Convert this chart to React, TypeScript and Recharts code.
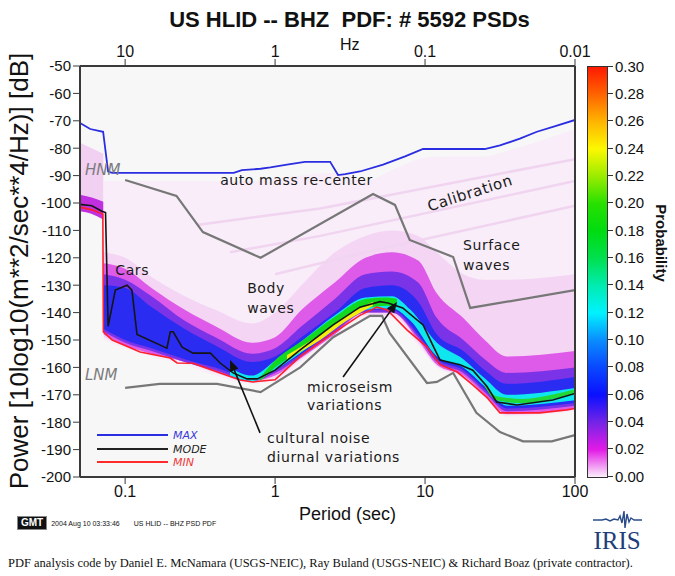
import React from "react";
import {
  ComposedChart,
  Area,
  Line,
  XAxis,
  YAxis,
  CartesianGrid,
  ReferenceDot,
  ReferenceLine,
} from "recharts";

// axis ticks
const periodTicks = [0.1, 1, 10, 100];
const freqLabels = ["10", "1", "0.1", "0.01"];
const powerTicks = [-200, -190, -180, -170, -160, -150, -140, -130, -120, -110, -100, -90, -80, -70, -60, -50];
const probTicks = ["0.30", "0.28", "0.26", "0.24", "0.22", "0.20", "0.18", "0.16", "0.14", "0.12", "0.10", "0.08", "0.06", "0.04", "0.02", "0.00"];

// statistic lines (period in s, power in dB)
const maxP = [0.05, 0.0585, 0.0713, 0.077, 0.082, 0.53, 0.6, 0.8, 0.93, 1.2, 1.58, 2.33, 2.63, 2.93, 3.68, 5.25, 7.36, 9.7, 25, 31.6, 42.9, 55.7, 73, 100];
const maxDb = [-70.8, -73, -74, -88.5, -89, -89, -88, -87.5, -87, -86, -85, -85, -89.8, -89.5, -88.5, -86, -83, -80.3, -80.3, -79, -76.5, -74, -72, -69.7];

const modeP = [0.05, 0.06, 0.07, 0.074, 0.077, 0.086, 0.103, 0.111, 0.12, 0.19, 0.2, 0.209, 0.24, 0.284, 0.37, 0.43, 0.525, 0.65, 0.76, 1.0, 1.47, 2.44, 3.68, 5, 5.66, 7.1, 9.7, 11.4, 12.6, 17.1, 20.8, 25.9, 30, 41, 71, 100];
const modeDb = [-100.5, -101, -103, -103.5, -145, -131.8, -130, -131.8, -148, -153, -147, -147, -152.6, -154.8, -154.8, -158.4, -162, -164.2, -164.2, -161, -153.6, -144.5, -138, -136, -136.5, -138.3, -144.5, -152.5, -157.3, -159, -161, -167, -172.6, -173.7, -171.9, -169.5];

const minP = [0.05, 0.06, 0.071, 0.0716, 0.082, 0.126, 0.2, 0.222, 0.284, 0.43, 0.585, 0.71, 1.0, 1.47, 2.44, 3.68, 4.78, 5.6, 7.6, 10.3, 12.6, 16.4, 20.8, 25.9, 31.6, 58, 88, 100];
const minDb = [-101.5, -102.5, -104, -147, -150, -154.4, -156.6, -158.4, -158.5, -162, -164.6, -165.3, -164.5, -156, -147.5, -141, -138, -139, -146.4, -152.5, -159, -161.7, -166.4, -171, -176.6, -176.6, -175.5, -175];

const hnmP = [0.1, 0.22, 0.33, 0.8, 4.5, 6.3, 7.9, 15.4, 20, 100];
const hnmDb = [-91.6, -97.4, -110.6, -120, -96.7, -100.7, -113.5, -119.7, -138.3, -131.8];

const lnmP = [0.1, 0.17, 0.41, 0.8, 1.47, 2.44, 4.3, 5.17, 5.8, 10.3, 12, 15.4, 22, 31.6, 45, 70, 100];
const lnmDb = [-167.5, -166, -166, -169, -160, -149, -141.2, -141.2, -147.4, -165.7, -165.3, -162, -176.6, -183.6, -187, -187, -184.7];

// probability density bands (outer to inner)
const bandP = [0.072, 0.1, 0.15, 0.25, 0.4, 0.7, 1.0, 1.5, 2.5, 4, 6, 9, 12, 18, 25, 35, 100];
const faintLo = [-150, -153, -156, -159, -163, -166, -165, -158, -149, -142, -142, -152, -160, -164, -171, -178, -176];
const faintHi = [-92, -92, -92, -92, -92, -92, -91, -90, -89, -92, -88, -84, -83, -83, -83, -81, -73];
const pinkLo = [-149, -152, -155, -158, -162, -165.5, -164, -157, -148, -141, -141, -151, -159.5, -163.5, -170.5, -177.5, -175.5];
const pinkHi = [-118, -120, -127, -134, -139, -144, -140, -130, -118, -112, -110, -112, -118, -126, -128, -128, -126];
const magLo = [-148, -152, -155, -158, -161.5, -165, -163, -156.5, -148, -140, -140, -150, -159, -163, -170, -177, -175];
const magHi = [-122, -124, -131, -139, -145, -151, -149, -139, -129, -120, -118, -121, -133, -142, -150, -156, -154];
const purLo = [-147, -151, -154, -158, -161, -165, -162, -156, -147, -140, -140, -149, -158, -162, -169, -176, -174];
const purHi = [-126, -128, -134, -143, -149, -155, -153, -145, -135, -126, -125, -129, -142, -150, -157, -162, -160];
const blueLo = [-146, -150, -153, -157, -160, -164, -161, -155, -146, -139, -139, -148, -157, -161, -168, -175, -173];
const blueHi = [-130, -131, -138, -146, -152, -158, -156, -149, -140, -131, -130, -136, -148, -154, -161, -166, -163.5];

const cyanP = [0.5, 0.7, 1.0, 1.5, 2.5, 4, 6, 8, 12, 18, 25, 35, 100];
const cyanLo = [-163, -165, -161, -154.5, -145.5, -139, -138.5, -143, -156, -160, -167, -174, -172];
const cyanHi = [-160, -163, -157.5, -150.5, -141, -134.5, -134, -139, -151, -157, -164, -170, -167.5];

const greenP = [0.8, 1.0, 1.5, 2.5, 4, 5.5, 6.5];
const greenLo = [-165, -160, -154, -145, -138.5, -137.5, -137.5];
const greenHi = [-163.5, -157.5, -150.5, -141.5, -135, -134.5, -135];
const green2P = [25, 30, 45, 70, 100];
const green2Lo = [-167, -172, -173, -171.5, -169.5];
const green2Hi = [-165.5, -170.5, -171.5, -170, -168];

const yellowP = [1.2, 2, 3, 4.5];
const yellowLo = [-157, -150, -143, -137.5];
const yellowHi = [-155.5, -148, -141, -136];

// short-period cluster and spurious high power
const clusterP = [0.05, 0.06, 0.0715];
const clusterLo = [-103, -104, -106];
const clusterHi = [-97, -98, -99.5];
const spikeP = [0.05, 0.06, 0.0715];
const spikeLo = [-97, -98, -100];
const spikeHi = [-78, -80, -82];

// calibration stripes
const stripe1P = [0.3, 2, 100];
const stripe1Db = [-108, -102, -84];
const stripe2P = [0.5, 2, 100];
const stripe2Db = [-118, -112, -92];
const stripe3P = [1, 4, 100];
const stripe3Db = [-126, -118, -101];

// annotations
const noteText = ["HNM", "auto mass re-center", "Surface", "waves", "Cars", "Body", "waves", "microseism", "variations", "cultural noise", "diurnal variations", "LNM"];
const noteP = [0.054, 0.43, 17.9, 17.9, 0.086, 0.651, 0.651, 1.63, 1.63, 0.884, 0.884, 0.054];
const noteDb = [-88, -91.6, -115.3, -122.6, -124.5, -131, -138.3, -167.2, -173.7, -185.8, -192.7, -162.8];
const arrowTail = [{ p: 0.794, db: -183.9 }, { p: 2.84, db: -163.5 }];
const arrowTip = [{ p: 0.501, db: -157.3 }, { p: 6.5, db: -136.1 }];

const line = (p: number[], db: number[]) => p.map((x, i) => ({ p: x, v: db[i] }));
const band = (p: number[], lo: number[], hi: number[]) => p.map((x, i) => ({ p: x, r: [lo[i], hi[i]] }));

const bands = [
  { data: band(bandP, faintLo, faintHi), fill: "#f8edf8" },
  { data: band(spikeP, spikeLo, spikeHi), fill: "#f1d0f2" },
  { data: band(bandP, pinkLo, pinkHi), fill: "#f4d6f4" },
  { data: band(bandP, magLo, magHi), fill: "#de5ae8" },
  { data: band(bandP, purLo, purHi), fill: "#7b33e8" },
  { data: band(bandP, blueLo, blueHi), fill: "#2a2cf2" },
  { data: band(cyanP, cyanLo, cyanHi), fill: "#10e6ee" },
  { data: band(greenP, greenLo, greenHi), fill: "#12d820" },
  { data: band(green2P, green2Lo, green2Hi), fill: "#22d836" },
  { data: band(yellowP, yellowLo, yellowHi), fill: "#f4ee10" },
  { data: band(clusterP, clusterLo, clusterHi), fill: "#c030e0" },
];

const narrow = "'Liberation Sans Narrow', 'Arial Narrow', 'Liberation Sans', sans-serif";
const noteFont = "'DejaVu Sans', sans-serif";

const NoteShape = (text: string, italic: boolean) => (props: any) => (
  <text
    x={props.cx}
    y={props.cy}
    dominantBaseline="central"
    fontFamily={noteFont}
    fontSize={italic ? 15 : 14}
    fontStyle={italic ? "italic" : "normal"}
    letterSpacing={italic ? 0 : 0.6}
    fill={italic ? "#7c7c7c" : "#1a1a1a"}
  >
    {text}
  </text>
);

const CalibrationShape = (props: any) => (
  <text
    x={props.cx}
    y={props.cy}
    textAnchor="middle"
    dominantBaseline="central"
    fontFamily={noteFont}
    fontSize={15}
    letterSpacing={0.6}
    fill="#1a1a1a"
    transform={`rotate(-18 ${props.cx} ${props.cy})`}
  >
    Calibration
  </text>
);

const ArrowShape = (props: any) => {
  const { x1, y1, x2, y2 } = props;
  const a = Math.atan2(y2 - y1, x2 - x1);
  const L = 11;
  const w = 4.5;
  const bx = x2 - L * Math.cos(a);
  const by = y2 - L * Math.sin(a);
  const pts = `${x2},${y2} ${bx + w * Math.sin(a)},${by - w * Math.cos(a)} ${bx - w * Math.sin(a)},${by + w * Math.cos(a)}`;
  return (
    <g>
      <line x1={x1} y1={y1} x2={bx} y2={by} stroke="#111" strokeWidth={1.6} />
      <polygon points={pts} fill="#111" />
    </g>
  );
};

export default function App() {
  return (
    <div style={{ position: "relative", width: 675, height: 576, background: "#fff", overflow: "hidden", fontFamily: "'Liberation Sans', Arial, sans-serif" }}>
      <style>{"body{margin:0}"}</style>
      <div style={{ position: "absolute", left: 12, width: 675, top: 7, textAlign: "center", fontFamily: narrow, fontWeight: "bold", fontSize: 22, color: "#111" }}>
        US HLID -- BHZ&nbsp;&nbsp;PDF: # 5592 PSDs
      </div>
      <ComposedChart width={675} height={576} margin={{ top: 36, right: 80, bottom: 69, left: 0 }} style={{ position: "absolute", left: 0, top: 0 }}>
        <CartesianGrid horizontal={false} vertical={false} fill="#f8f7f8" />
        <XAxis
          type="number"
          dataKey="p"
          scale="log"
          domain={[0.05, 100]}
          allowDataOverflow
          ticks={periodTicks}
          tickFormatter={(v: number) => String(v)}
          height={30}
          tickSize={7}
          tick={{ fontSize: 16, fill: "#111", fontFamily: narrow }}
          axisLine={{ stroke: "#3a3a3a", strokeWidth: 2 }}
          tickLine={{ stroke: "#3a3a3a" }}
        />
        <XAxis
          xAxisId="top"
          orientation="top"
          type="number"
          dataKey="p"
          scale="log"
          domain={[0.05, 100]}
          allowDataOverflow
          ticks={periodTicks}
          tickFormatter={(v: number) => freqLabels[periodTicks.indexOf(v)]}
          height={30}
          tickSize={7}
          tick={{ fontSize: 16, fill: "#111", fontFamily: narrow }}
          axisLine={{ stroke: "#3a3a3a", strokeWidth: 2 }}
          tickLine={{ stroke: "#3a3a3a" }}
        />
        <YAxis
          type="number"
          domain={[-200, -50]}
          allowDataOverflow
          ticks={powerTicks}
          width={80}
          tickSize={7}
          tick={{ fontSize: 15, fill: "#111", fontFamily: narrow }}
          axisLine={{ stroke: "#3a3a3a", strokeWidth: 2 }}
          tickLine={{ stroke: "#3a3a3a" }}
        />
        <YAxis
          yAxisId="right"
          orientation="right"
          type="number"
          domain={[-200, -50]}
          ticks={powerTicks}
          width={20}
          tickSize={6}
          tickFormatter={() => ""}
          axisLine={{ stroke: "#3a3a3a", strokeWidth: 2 }}
          tickLine={{ stroke: "#3a3a3a" }}
        />
        {bands.map((b, i) => (
          <Area key={i} data={b.data} dataKey="r" type="monotone" stroke="none" fill={b.fill} fillOpacity={1} isAnimationActive={false} />
        ))}
        {[line(stripe1P, stripe1Db), line(stripe2P, stripe2Db), line(stripe3P, stripe3Db)].map((d, i) => (
          <Line key={`s${i}`} data={d} dataKey="v" stroke="#f0d4f0" strokeWidth={2.5} dot={false} isAnimationActive={false} />
        ))}
        <Line data={line(hnmP, hnmDb)} dataKey="v" stroke="#777" strokeWidth={2.2} dot={false} isAnimationActive={false} />
        <Line data={line(lnmP, lnmDb)} dataKey="v" stroke="#777" strokeWidth={2.2} dot={false} isAnimationActive={false} />
        <Line data={line(minP, minDb)} dataKey="v" stroke="#ff1e2a" strokeWidth={1.6} dot={false} isAnimationActive={false} />
        <Line data={line(modeP, modeDb)} dataKey="v" stroke="#151515" strokeWidth={1.6} dot={false} isAnimationActive={false} />
        <Line data={line(maxP, maxDb)} dataKey="v" stroke="#2a2ee0" strokeWidth={1.8} dot={false} isAnimationActive={false} />
        {noteText.map((t, i) => (
          <ReferenceDot key={`n${i}`} x={noteP[i]} y={noteDb[i]} r={0} shape={NoteShape(t, t === "HNM" || t === "LNM")} />
        ))}
        <ReferenceDot x={19.95} y={-96.4} r={0} shape={CalibrationShape} />
        {arrowTail.map((a, i) => (
          <ReferenceLine key={`a${i}`} segment={[{ x: a.p, y: a.db }, { x: arrowTip[i].p, y: arrowTip[i].db }]} shape={ArrowShape} />
        ))}
      </ComposedChart>

      {/* top axis unit */}
      <div style={{ position: "absolute", left: 340, top: 36, fontFamily: narrow, fontSize: 16, color: "#111" }}>Hz</div>
      {/* axis titles */}
      <div style={{ position: "absolute", left: 10, width: 675, top: 504, textAlign: "center", fontFamily: narrow, fontSize: 18, color: "#111" }}>Period (sec)</div>
      <div style={{ position: "absolute", left: 19, top: 271, transform: "translate(-50%, -50%) rotate(-90deg)", whiteSpace: "nowrap", fontSize: 26, color: "#111" }}>
        Power [10log10(m**2/sec**4/Hz)] [dB]
      </div>

      {/* legend */}
      <svg style={{ position: "absolute", left: 90, top: 426 }} width={130} height={44}>
        <line x1={7} y1={9} x2={78} y2={9} stroke="#2a2ee0" strokeWidth={2} />
        <line x1={7} y1={23} x2={78} y2={23} stroke="#222" strokeWidth={2} />
        <line x1={7} y1={36} x2={78} y2={36} stroke="#ff2a2a" strokeWidth={2} />
        <text x={83} y={13} fontFamily={noteFont} fontStyle="italic" fontSize={11} fill="#3a3ad8">MAX</text>
        <text x={83} y={27} fontFamily={noteFont} fontStyle="italic" fontSize={11} fill="#222">MODE</text>
        <text x={83} y={40} fontFamily={noteFont} fontStyle="italic" fontSize={11} fill="#f03a3a">MIN</text>
      </svg>

      {/* colour scale */}
      <div
        style={{
          position: "absolute",
          left: 587,
          top: 66,
          width: 19,
          height: 410,
          border: "1px solid #333",
          background:
            "linear-gradient(to top, #fbeefb 0%, #e21ae6 6.7%, #7424e6 13.3%, #0a10ff 20%, #0a48ff 26.7%, #0a8cff 33.3%, #00f2ff 40%, #00ecb0 46.7%, #00e050 53.3%, #00dc10 60%, #28e000 66.7%, #9aec00 73.3%, #fcf800 80%, #ffb400 86.7%, #ff6400 93.3%, #ff1a00 100%)",
        }}
      />
      {probTicks.map((t, i) => (
        <div key={t} style={{ position: "absolute", left: 608, top: 66 + (i * 410) / 15 - 9, height: 18, display: "flex", alignItems: "center" }}>
          <span style={{ display: "inline-block", width: 5, height: 1, background: "#333", marginRight: 2 }} />
          <span style={{ fontSize: 15, color: "#111" }}>{t}</span>
        </div>
      ))}
      <div style={{ position: "absolute", left: 661, top: 243, transform: "translate(-50%, -50%) rotate(90deg)", fontWeight: "bold", fontSize: 15, color: "#111" }}>
        Probability
      </div>

      {/* footer */}
      <div style={{ position: "absolute", left: 17, top: 516, display: "flex", alignItems: "center", gap: 4 }}>
        <span style={{ background: "#111", color: "#fff", fontWeight: "bold", fontSize: 10, padding: "0 3px", lineHeight: "12px", border: "1px solid #888" }}>GMT</span>
        <span style={{ fontSize: 7, color: "#111" }}>2004 Aug 10 03:33:46</span>
        <span style={{ fontSize: 7, color: "#111", marginLeft: 10 }}>US HLID -- BHZ PSD PDF</span>
      </div>
      <svg style={{ position: "absolute", left: 590, top: 508 }} width={55} height={46}>
        <polyline
          points="3,12 12,12 16,11 20,13 24,11 28,12 30,8 32,15 34,3 35,20 37,6 39,14 41,10 44,12 52,12"
          fill="none"
          stroke="#2a4c8a"
          strokeWidth={1.4}
        />
        <text x={27} y={41} textAnchor="middle" fontFamily="'Liberation Serif', serif" fontSize={25} fill="#1f3f78">IRIS</text>
      </svg>
      <div style={{ position: "absolute", left: 8, top: 556, fontFamily: "'Liberation Serif', serif", fontSize: 12.5, color: "#111", whiteSpace: "nowrap" }}>
        PDF analysis code by Daniel E. McNamara (USGS-NEIC), Ray Buland (USGS-NEIC) &amp; Richard Boaz (private contractor).
      </div>
    </div>
  );
}
